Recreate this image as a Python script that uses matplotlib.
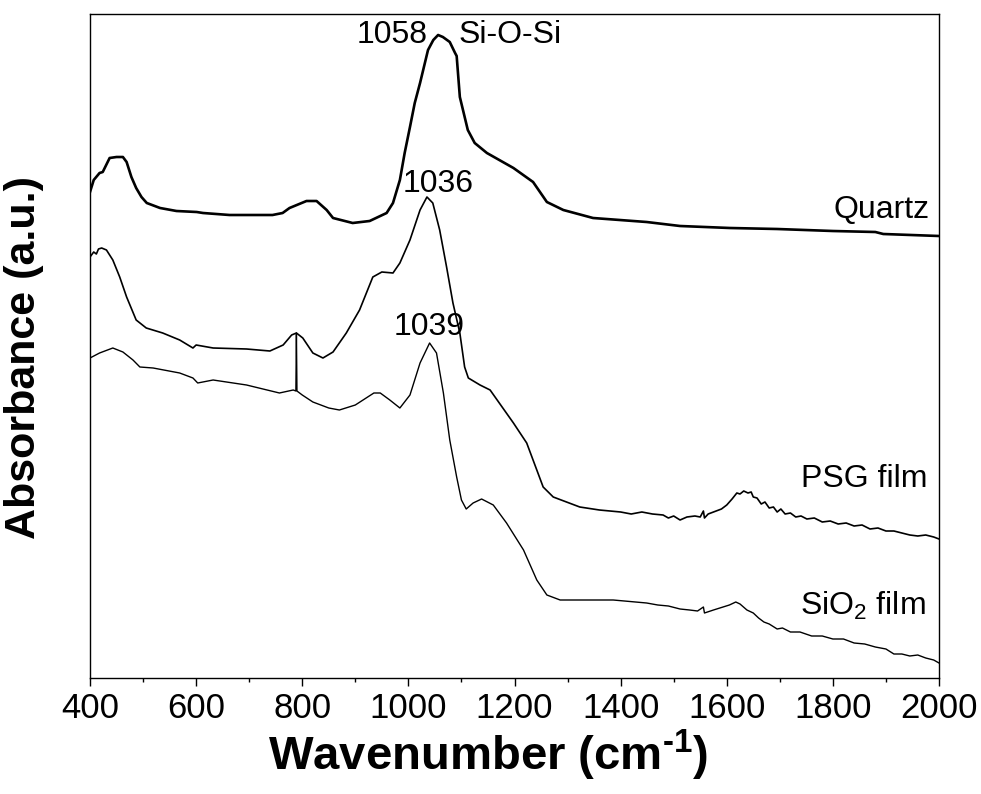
import matplotlib
matplotlib.use("Agg")
import matplotlib.pyplot as plt
from matplotlib.ticker import MultipleLocator

# wavenumber (cm-1) and absorbance (a.u., stacked offsets as in the figure)
quartz_x = [400, 407, 418, 424, 437, 450, 462, 469, 478, 487, 497, 507, 532, 563, 601, 613, 663,
            744, 763, 776, 808, 827, 846, 858, 895, 927, 959, 971, 984, 993, 1003, 1012, 1022,
            1037, 1047, 1056, 1065, 1078, 1088, 1091, 1097, 1112, 1125, 1148, 1198, 1235, 1261,
            1292, 1348, 1449, 1512, 1606, 1695, 1800, 1880, 1895, 2000]
quartz_y = [4.86, 4.98, 5.05, 5.06, 5.20, 5.21, 5.21, 5.16, 5.01, 4.90, 4.81, 4.75, 4.70, 4.67,
            4.66, 4.65, 4.63, 4.63, 4.65, 4.70, 4.77, 4.77, 4.68, 4.60, 4.55, 4.57, 4.65, 4.75,
            4.98, 5.25, 5.51, 5.75, 5.95, 6.28, 6.38, 6.43, 6.41, 6.36, 6.25, 6.22, 5.81, 5.48,
            5.35, 5.25, 5.10, 4.96, 4.76, 4.68, 4.60, 4.56, 4.52, 4.50, 4.49, 4.47, 4.46, 4.44,
            4.42]

psg_x = [400, 407, 412, 416, 422, 431, 443, 456, 469, 487, 506, 537, 569, 594, 600, 632, 695, 739,
         764, 780, 789, 801, 820, 839, 858, 883, 908, 933, 950, 971, 984, 1003, 1022, 1035, 1046,
         1059, 1072, 1084, 1097, 1106, 1113, 1135, 1154, 1198, 1223, 1254, 1273, 1323, 1360,
         1400, 1420, 1440, 1460, 1480, 1490, 1500, 1512, 1525, 1540, 1550, 1556, 1558, 1565,
         1575, 1590, 1600, 1610, 1619, 1625, 1632, 1640, 1646, 1650, 1657, 1665, 1672, 1680,
         1688, 1695, 1702, 1710, 1720, 1730, 1740, 1751, 1765, 1780, 1795, 1810, 1825, 1840,
         1855, 1870, 1885, 1900, 1915, 1930, 1945, 1960, 1975, 1990, 2000]
psg_y = [4.21, 4.26, 4.24, 4.29, 4.30, 4.28, 4.18, 4.01, 3.81, 3.58, 3.50, 3.45, 3.38, 3.30, 3.33,
         3.30, 3.29, 3.27, 3.33, 3.43, 3.45, 3.40, 3.25, 3.20, 3.26, 3.45, 3.68, 4.01, 4.06, 4.05,
         4.15, 4.38, 4.68, 4.81, 4.75, 4.48, 4.11, 3.75, 3.45, 3.11, 3.00, 2.93, 2.88, 2.55, 2.35,
         1.91, 1.81, 1.71, 1.68, 1.66, 1.64, 1.66, 1.64, 1.63, 1.60, 1.62, 1.58, 1.61, 1.62, 1.61,
         1.67, 1.60, 1.64, 1.66, 1.69, 1.73, 1.79, 1.85, 1.84, 1.87, 1.85, 1.86, 1.81, 1.80, 1.74,
         1.76, 1.70, 1.71, 1.66, 1.69, 1.64, 1.65, 1.61, 1.62, 1.59, 1.60, 1.56, 1.57, 1.54, 1.55,
         1.52, 1.53, 1.49, 1.50, 1.47, 1.47, 1.45, 1.43, 1.42, 1.43, 1.41, 1.39]

sio2_x = [400, 418, 443, 462, 481, 494, 519, 569, 594, 603, 632, 695, 757, 783, 788, 789, 790, 800,
          820, 850, 870, 900, 935, 947, 965, 984, 1003, 1022, 1040, 1053, 1066, 1078, 1091, 1100,
          1109, 1122, 1138, 1160, 1185, 1217, 1242, 1261, 1286, 1386, 1449, 1470, 1490, 1512,
          1530, 1545, 1556, 1558, 1575, 1593, 1605, 1617, 1625, 1638, 1650, 1660, 1670, 1680,
          1695, 1705, 1720, 1738, 1760, 1780, 1800, 1820, 1840, 1860, 1880, 1900, 1915, 1930,
          1945, 1960, 1975, 1990, 2000]
sio2_y = [3.20, 3.25, 3.30, 3.26, 3.18, 3.11, 3.10, 3.05, 3.00, 2.95, 2.98, 2.93, 2.85, 2.88, 2.87,
          3.45, 2.87, 2.83, 2.76, 2.70, 2.68, 2.73, 2.85, 2.85, 2.78, 2.70, 2.83, 3.15, 3.35, 3.25,
          2.85, 2.38, 2.01, 1.78, 1.69, 1.75, 1.79, 1.73, 1.55, 1.28, 0.98, 0.83, 0.78, 0.78, 0.75,
          0.73, 0.72, 0.69, 0.68, 0.67, 0.71, 0.65, 0.68, 0.71, 0.73, 0.76, 0.74, 0.68, 0.65, 0.60,
          0.56, 0.54, 0.49, 0.50, 0.46, 0.46, 0.42, 0.42, 0.39, 0.39, 0.35, 0.34, 0.31, 0.29, 0.24,
          0.24, 0.22, 0.23, 0.20, 0.18, 0.15]

plt.rcParams["font.family"] = ["Liberation Sans", "DejaVu Sans"]
plt.rcParams["mathtext.fontset"] = "custom"
plt.rcParams["mathtext.rm"] = "Liberation Sans"
plt.rcParams["mathtext.bf"] = "Liberation Sans:bold"

fig = plt.figure(figsize=(9.81, 7.94), dpi=100)
ax = fig.add_axes([90 / 981, 116 / 794, 849 / 981, 664 / 794])

ax.plot(quartz_x, quartz_y, color="black", lw=1.9)
ax.plot(psg_x, psg_y, color="black", lw=1.2)
ax.plot(sio2_x, sio2_y, color="black", lw=1.0)

ax.set_xlim(400, 2000)
ax.set_ylim(0, 6.64)
ax.xaxis.set_major_locator(MultipleLocator(200))
ax.xaxis.set_minor_locator(MultipleLocator(100))
ax.set_yticks([])
ax.tick_params(axis="x", which="major", direction="out", length=6, width=1, pad=4,
               labelsize=25)
ax.tick_params(axis="x", which="minor", direction="out", length=3, width=1)
for s in ax.spines.values():
    s.set_linewidth(1.0)

ax.set_xlabel("Wavenumber (cm$^{\\mathbf{\u2010}\\mathbf{1}}$)", fontsize=34, fontweight="bold")
ax.xaxis.label.set_va("center")
ax.xaxis.set_label_coords(0.469, -0.117)
ax.set_ylabel("Absorbance (a.u.)", fontsize=31, fontweight="bold")
ax.yaxis.set_label_coords(-0.054, 0.483)

fs = 23
ax.text(1036, 6.35, "1058", fontsize=fs, ha="right", va="baseline")
ax.text(1095, 6.35, "Si-O-Si", fontsize=fs, ha="left", va="baseline")
ax.text(1057, 4.86, "1036", fontsize=fs, ha="center", va="baseline")
ax.text(1040, 3.43, "1039", fontsize=fs, ha="center", va="baseline")
ax.text(1983, 4.60, "Quartz", fontsize=fs, ha="right", va="baseline")
ax.text(1978, 1.91, "PSG film", fontsize=fs, ha="right", va="baseline")
ax.text(1974, 0.63, "SiO$_2$ film", fontsize=fs, ha="right", va="baseline")

fig.savefig("out.png", dpi=100)
